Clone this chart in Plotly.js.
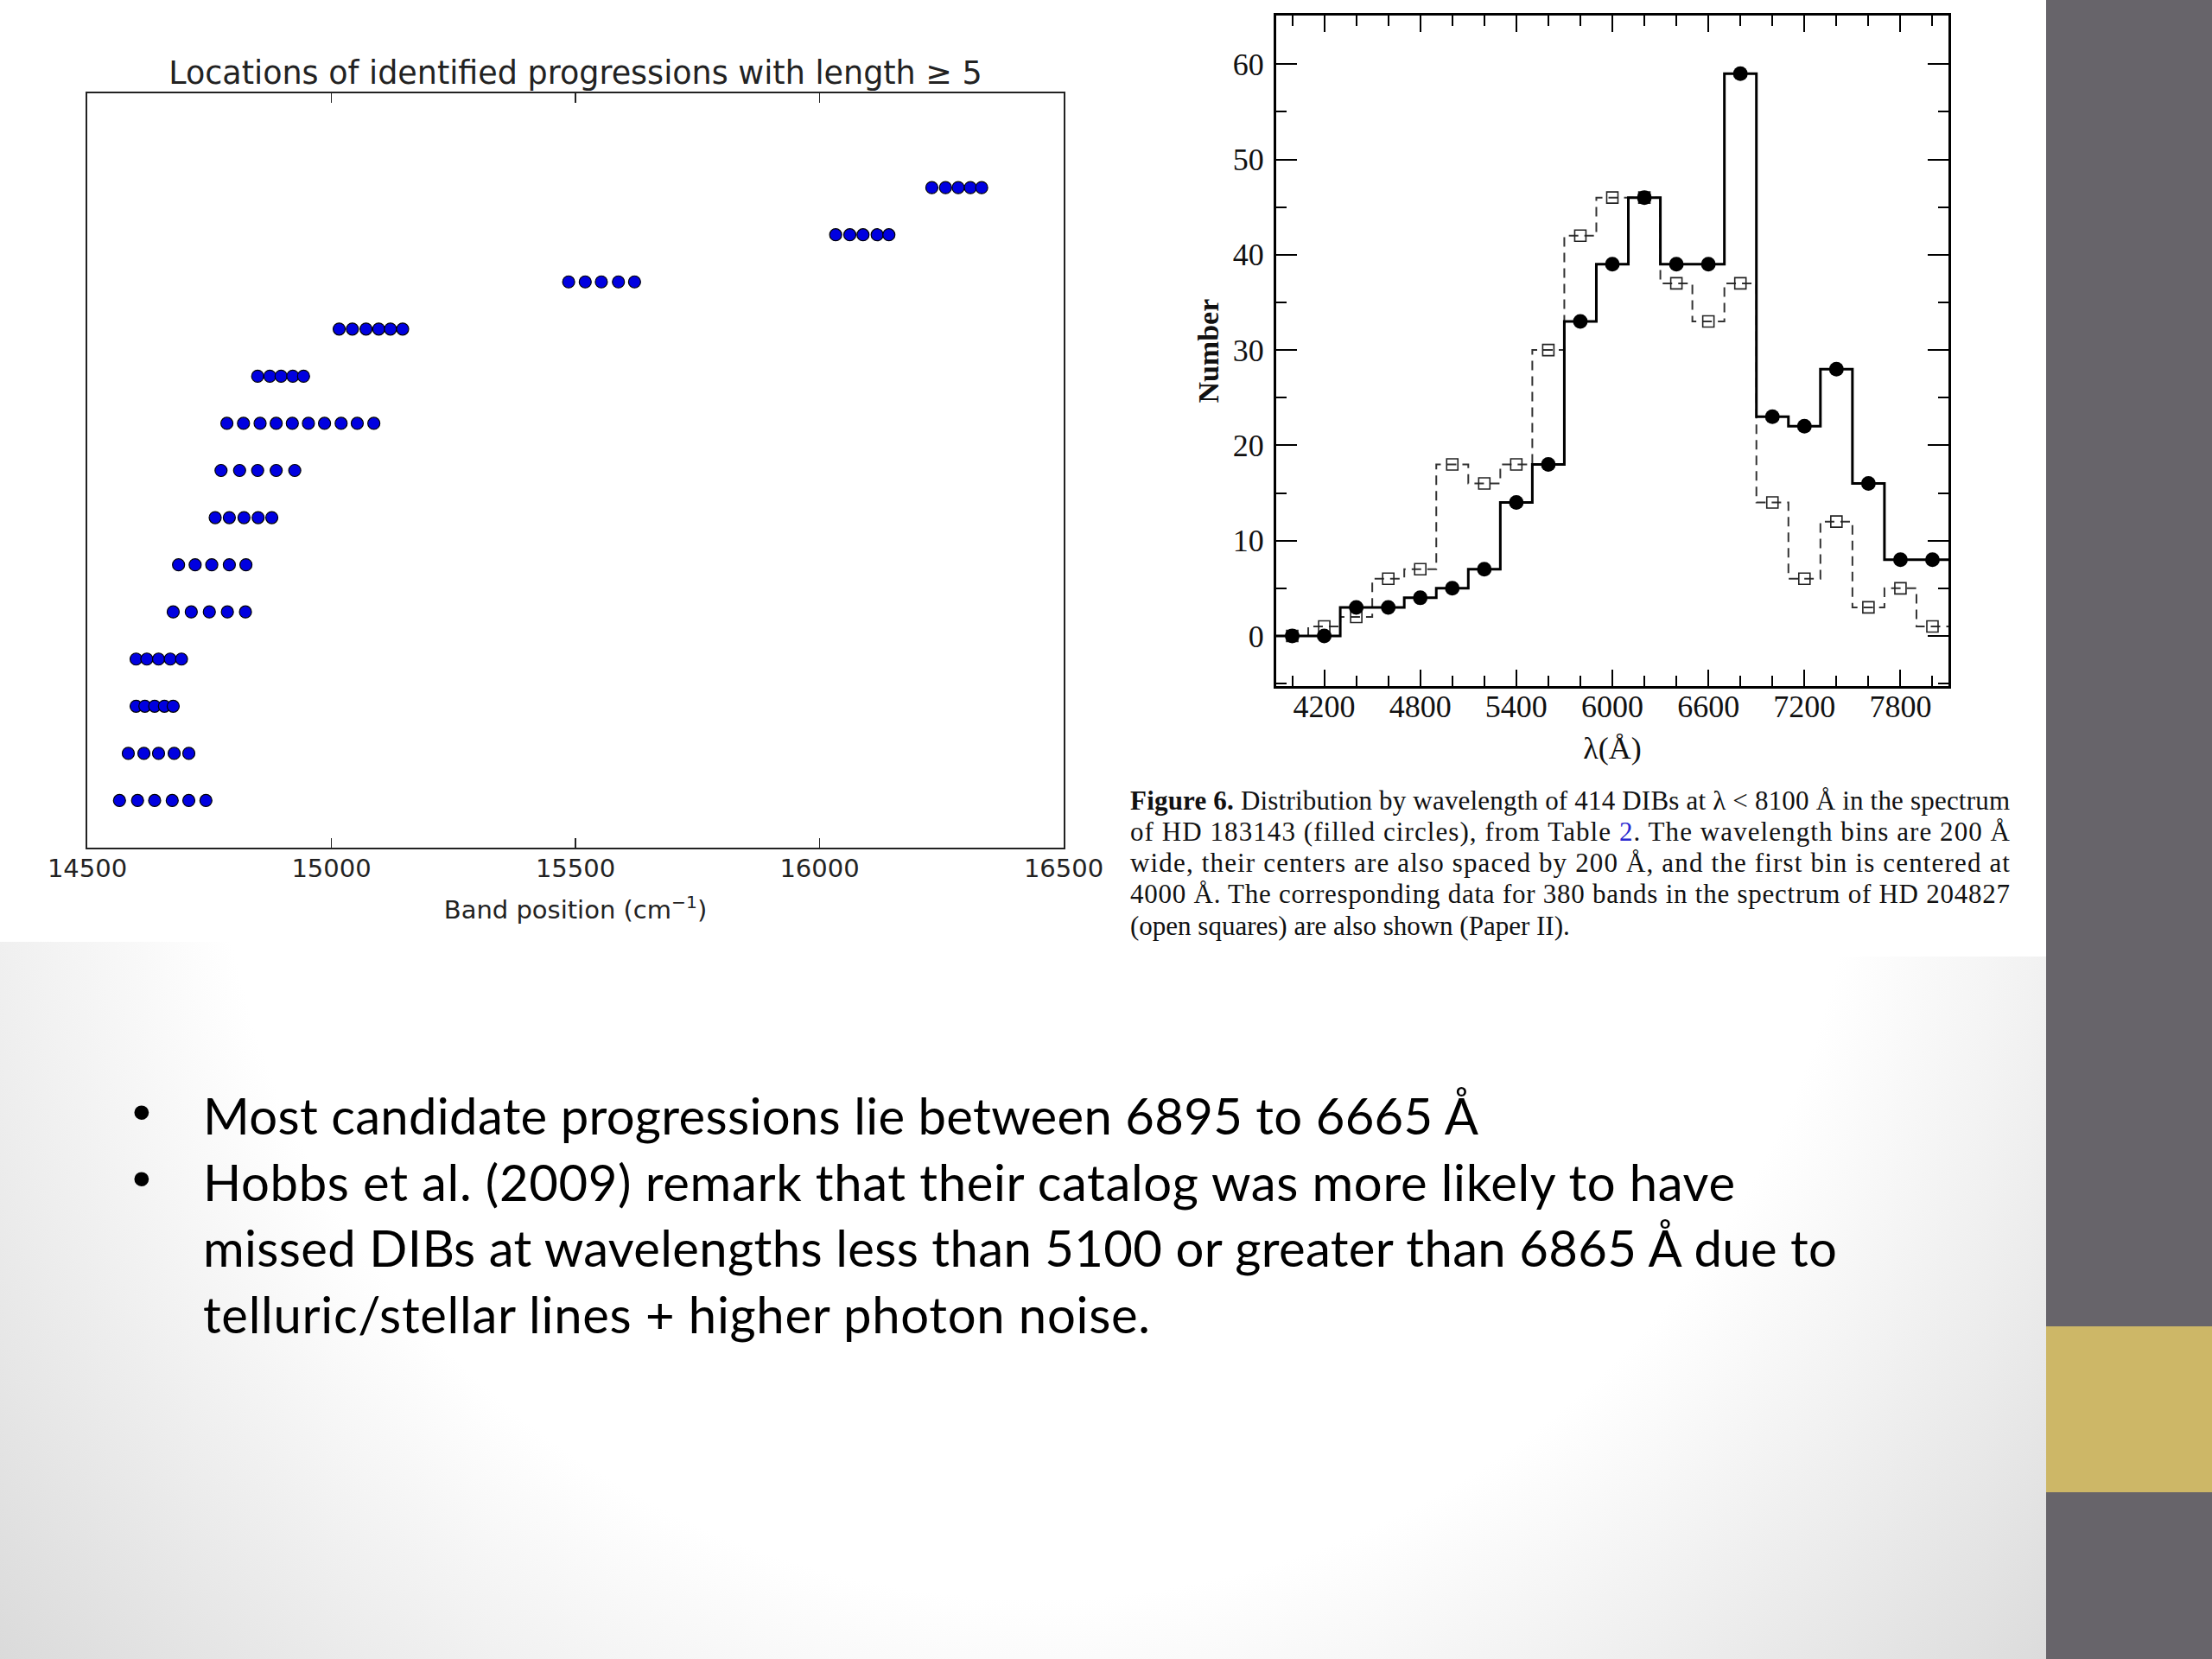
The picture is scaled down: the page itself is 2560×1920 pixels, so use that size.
<!DOCTYPE html>
<html>
<head>
<meta charset="utf-8">
<script src="https://cdn.plot.ly/plotly-3.0.1.min.js"></script>
<style>
html, body { margin: 0; padding: 0; width: 2560px; height: 1920px; overflow: hidden;
  background: radial-gradient(circle 1650px at 1200px 900px, #ffffff 950px, #d6d6d6 1650px); }
#chart { width: 2560px; height: 1920px; }
</style>
</head>
<body>
<div id="chart"></div>
<script>
// ---------- Left chart: identified progressions (band positions, cm^-1), bottom row first ----------
const prog01 = [14566, 14603, 14638, 14674, 14708, 14743];
const prog02 = [14584, 14616, 14646, 14678, 14708];
const prog03 = [14600, 14618, 14638, 14658, 14676];
const prog04 = [14600, 14622, 14646, 14670, 14693];
const prog05 = [14676, 14713, 14750, 14787, 14824];
const prog06 = [14687, 14721, 14755, 14791, 14825];
const prog07 = [14762, 14791, 14821, 14850, 14878];
const prog08 = [14774, 14812, 14849, 14887, 14925];
const prog09 = [14786, 14820, 14854, 14887, 14920, 14953, 14986, 15020, 15053, 15087];
const prog10 = [14849, 14874, 14897, 14921, 14943];
const prog11 = [15016, 15043, 15071, 15097, 15121, 15146];
const prog12 = [15486, 15520, 15553, 15588, 15621];
const prog13 = [16033, 16062, 16089, 16118, 16142];
const prog14 = [16230, 16258, 16284, 16309, 16332];
const progressionRows = [prog01, prog02, prog03, prog04, prog05, prog06, prog07,
                         prog08, prog09, prog10, prog11, prog12, prog13, prog14];
const bandTicks = [14500, 15000, 15500, 16000, 16500];
const bandRange = [14500, 16500];
const rowRange = [0, 16];

// ---------- Right chart: DIB counts per 200 A bin ----------
const binCenters = [4000, 4200, 4400, 4600, 4800, 5000, 5200, 5400, 5600, 5800, 6000,
                    6200, 6400, 6600, 6800, 7000, 7200, 7400, 7600, 7800, 8000];
const hd183143 = [0, 0, 3, 3, 4, 5, 7, 14, 18, 33, 39, 46, 39, 39, 59, 23, 22, 28, 16, 8, 8];
const hd204827 = [0, 1, 2, 6, 7, 18, 16, 18, 30, 42, 46, 46, 37, 33, 37, 14, 6, 12, 3, 5, 1];
const binWidth = 200;
const wavelengthTicks = [4200, 4800, 5400, 6000, 6600, 7200, 7800];
const numberTicks = [0, 10, 20, 30, 40, 50, 60];
const wavelengthRange = [3900, 8100];
const numberRange = [-5.26, 65.07];

// ---------- derived arrays ----------
const progX = [], progY = [];
progressionRows.forEach((row, i) => row.forEach(v => { progX.push(v); progY.push(i + 1); }));
function stepX(c) { return [c[0] - binWidth / 2].concat(c, [c[c.length - 1] + binWidth / 2]); }
function stepY(v) { return [v[0]].concat(v, [v[v.length - 1]]); }

const W = 2560, H = 1920;
const px = x => x / W;
const py = y => 1 - y / H;

const serif = 'Liberation Serif';
const data = [
  { type: 'scatter', mode: 'markers', x: progX, y: progY, xaxis: 'x', yaxis: 'y',
    marker: { size: 14, color: '#0000e0', line: { color: '#000', width: 1.2 } }, hoverinfo: 'skip' },
  { type: 'scatter', mode: 'lines', x: stepX(binCenters), y: stepY(hd204827), xaxis: 'x2', yaxis: 'y2',
    line: { shape: 'hvh', dash: '11px,7px', width: 2, color: '#333' } },
  { type: 'scatter', mode: 'markers', x: binCenters, y: hd204827, xaxis: 'x2', yaxis: 'y2',
    marker: { symbol: 'square-open', size: 13, color: '#222', line: { width: 1.6 } } },
  { type: 'scatter', mode: 'lines', x: stepX(binCenters), y: stepY(hd183143), xaxis: 'x2', yaxis: 'y2',
    line: { shape: 'hvh', width: 3, color: '#000' } },
  { type: 'scatter', mode: 'markers', x: binCenters, y: hd183143, xaxis: 'x2', yaxis: 'y2',
    marker: { symbol: 'circle', size: 17, color: '#000' } }
];

const captionLines = [
  '<b>Figure 6.</b> Distribution by wavelength of 414 DIBs at λ &lt; 8100 Å in the spectrum',
  'of HD 183143 (filled circles), from Table <span style="color:#2a2ad0">2</span>. The wavelength bins are 200 Å',
  'wide, their centers are also spaced by 200 Å, and the first bin is centered at',
  '4000 Å. The corresponding data for 380 bands in the spectrum of HD 204827',
  '(open squares) are also shown (Paper II).'
];
const captionY = [926, 962, 998, 1034, 1071];
const captionW = [1018, 1018, 1018, 1018, 0];

const bulletLines = [
  'Most candidate progressions lie between 6895 to 6665 Å',
  'Hobbs et al. (2009) remark that their catalog was more likely to have',
  'missed DIBs at wavelengths less than 5100 or greater than 6865 Å due to',
  'telluric/stellar lines + higher photon noise.'
];
const bulletY = [1290, 1367, 1443, 1520];
const bulletW = [1476, 1773, 1891, 1096];

const annotations = [];
const stretchWidths = [];
captionLines.forEach((t, i) => {
  annotations.push({ text: t, xref: 'paper', yref: 'paper', x: px(1307), y: py(captionY[i]),
    xanchor: 'left', yanchor: 'middle', align: 'left', showarrow: false, borderpad: 0,
    font: { family: serif, size: 31, color: '#111' } });
  stretchWidths.push(captionW[i]);
});
bulletLines.forEach((t, i) => {
  annotations.push({ text: t, xref: 'paper', yref: 'paper', x: px(234), y: py(bulletY[i]),
    xanchor: 'left', yanchor: 'middle', align: 'left', showarrow: false, borderpad: 0,
    font: { family: 'Lato', size: 58, color: '#000' } });
  stretchWidths.push(bulletW[i]);
});
[0, 1].forEach(i => {
  annotations.push({ text: '•', xref: 'paper', yref: 'paper', x: px(164), y: py(bulletY[i] - 4),
    xanchor: 'center', yanchor: 'middle', showarrow: false,
    font: { family: 'Liberation Sans', size: 62, color: '#000' } });
  stretchWidths.push(0);
});

const leftFont = { family: 'DejaVu Sans', size: 29, color: '#222' };
const layout = {
  width: W, height: H,
  margin: { l: 0, r: 0, t: 0, b: 0, pad: 0 },
  paper_bgcolor: 'rgba(0,0,0,0)', plot_bgcolor: 'rgba(0,0,0,0)',
  showlegend: false,
  title: { text: 'Locations of identified progressions with length ≥ 5',
    x: px((101 + 1231) / 2), y: py(84), xanchor: 'center', yanchor: 'middle',
    font: { family: 'DejaVu Sans', size: 36.5, color: '#222' } },
  xaxis: { domain: [px(101), px(1231)], range: bandRange, anchor: 'y',
    tickmode: 'array', tickvals: bandTicks, ticktext: bandTicks.map(String),
    ticks: 'inside', ticklen: 11, tickwidth: 1.5, tickcolor: '#222',
    showline: true, linecolor: '#222', linewidth: 2, mirror: 'allticks',
    showgrid: false, zeroline: false, tickfont: leftFont, ticklabelstandoff: -3,
    title: { text: 'Band position (cm<sup>−1</sup>)', font: leftFont, standoff: 22 } },
  yaxis: { domain: [py(981), py(108)], range: rowRange, anchor: 'x',
    showline: true, linecolor: '#222', linewidth: 2, mirror: true,
    ticks: '', showticklabels: false, showgrid: false, zeroline: false },
  xaxis2: { domain: [px(1477), px(2255)], range: wavelengthRange, anchor: 'y2',
    tickmode: 'linear', tick0: wavelengthTicks[0], dtick: wavelengthTicks[1] - wavelengthTicks[0],
    tickformat: 'd', ticks: 'inside', ticklen: 19, tickwidth: 2, tickcolor: '#000',
    minor: { tickmode: 'linear', tick0: binCenters[0], dtick: binWidth, ticks: 'inside', ticklen: 12, tickwidth: 2, tickcolor: '#000', showgrid: false },
    showline: true, linecolor: '#000', linewidth: 3, mirror: 'allticks',
    showgrid: false, zeroline: false, ticklabelstandoff: -10,
    tickfont: { family: serif, size: 36, color: '#111' },
    title: { text: 'λ(Å)', font: { family: serif, size: 36, color: '#111' }, standoff: 16 } },
  yaxis2: { domain: [py(794), py(18.3)], range: numberRange, anchor: 'x2',
    tickmode: 'linear', tick0: numberTicks[0], dtick: numberTicks[1] - numberTicks[0],
    ticks: 'inside', ticklen: 24, tickwidth: 2, tickcolor: '#000',
    minor: { tickmode: 'linear', tick0: 0, dtick: 5, ticks: 'inside', ticklen: 12, tickwidth: 2, tickcolor: '#000', showgrid: false },
    showline: true, linecolor: '#000', linewidth: 3, mirror: 'allticks',
    showgrid: false, zeroline: false, ticklabelstandoff: 4,
    tickfont: { family: serif, size: 36, color: '#111' },
    title: { text: '<b>Number</b>', font: { family: serif, size: 34, color: '#111' }, standoff: 6 } },
  shapes: [
    { type: 'rect', xref: 'paper', yref: 'paper', x0: 0, x1: px(1290), y0: py(1090), y1: 1,
      fillcolor: '#ffffff', line: { width: 0 }, layer: 'below' },
    { type: 'rect', xref: 'paper', yref: 'paper', x0: px(1290), x1: px(2369), y0: py(1107), y1: 1,
      fillcolor: '#ffffff', line: { width: 0 }, layer: 'below' },
    { type: 'rect', xref: 'paper', yref: 'paper', x0: px(2368), x1: 1, y0: 0, y1: 1,
      fillcolor: '#67646a', line: { width: 0 }, layer: 'below' },
    { type: 'rect', xref: 'paper', yref: 'paper', x0: px(2368), x1: 1, y0: py(1727), y1: py(1535),
      fillcolor: '#cdb767', line: { width: 0 }, layer: 'below' }
  ],
  annotations: annotations
};

Plotly.newPlot('chart', data, layout, { staticPlot: true }).then(() => {
  document.querySelectorAll('g.annotation').forEach(g => {
    const idx = +g.getAttribute('data-index');
    const w = stretchWidths[idx];
    if (w) {
      const t = g.querySelector('text.annotation-text');
      if (t) { t.setAttribute('textLength', w); t.setAttribute('lengthAdjust', 'spacing'); }
    }
  });
});
</script>
</body>
</html>
